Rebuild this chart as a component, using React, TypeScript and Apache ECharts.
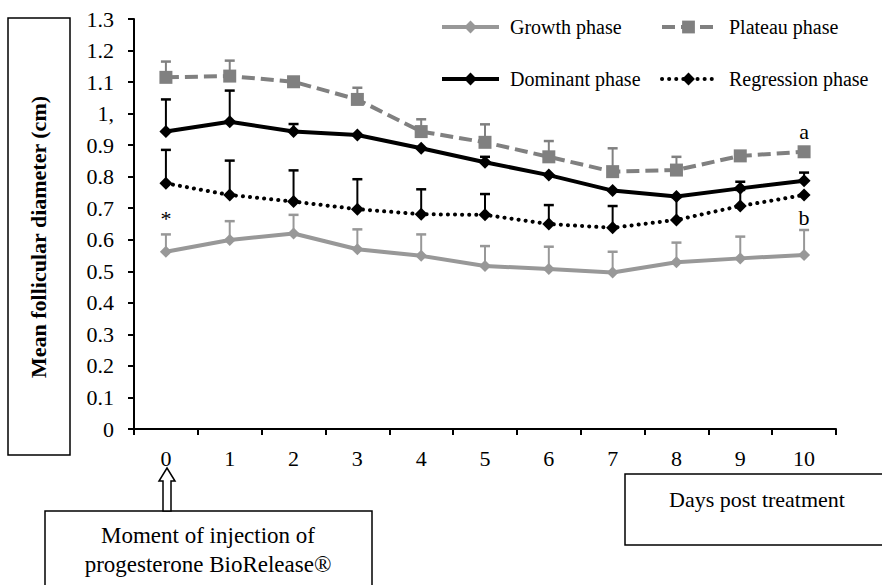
import React, { useEffect, useRef } from "react";
import * as echarts from "echarts";

const days = ["0", "1", "2", "3", "4", "5", "6", "7", "8", "9", "10"];
const yTicksMax = 1.3;

const growth = [0.562, 0.599, 0.62, 0.57, 0.549, 0.517, 0.507, 0.496, 0.529, 0.541, 0.552];
const growthTop = [0.617, 0.659, 0.679, 0.633, 0.617, 0.58, 0.578, 0.562, 0.591, 0.61, 0.631];

const plateau = [1.115, 1.119, 1.101, 1.045, 0.943, 0.909, 0.863, 0.816, 0.821, 0.866, 0.879];
const plateauTop = [1.165, 1.168, null, 1.082, 0.982, 0.966, 0.913, 0.89, 0.863, null, null];

const dominant = [0.943, 0.974, 0.943, 0.932, 0.89, 0.846, 0.805, 0.756, 0.737, 0.763, 0.787];
const dominantTop = [1.045, 1.073, 0.967, null, null, 0.863, null, null, null, 0.784, 0.813];

const regression = [0.779, 0.742, 0.721, 0.697, 0.681, 0.679, 0.65, 0.638, 0.663, 0.707, 0.742];
const regressionTop = [0.885, 0.851, 0.82, 0.792, 0.76, 0.745, 0.71, 0.707, 0.735, 0.758, null];

const annoDays = [0, 10, 10];
const annoValues = [0.666, 0.942, 0.672];
const annoTexts = ["*", "a", "b"];

const FONT = "Liberation Serif, Times New Roman, DejaVu Serif, serif";
const GROWTH_C = "#989898";
const PLATEAU_C = "#808080";

function errData(mean: number[], top: (number | null)[]) {
  const out: any[] = [];
  mean.forEach((m, i) => {
    const t = top[i];
    if (t != null) out.push([i, m, t]);
  });
  return out;
}

function errSeries(name: string, mean: number[], top: (number | null)[], color: string) {
  return {
    name: name + " err",
    type: "custom",
    z: 1,
    data: errData(mean, top),
    renderItem: (params: any, api: any) => {
      const x = api.value(0);
      const p0 = api.coord([x, api.value(1)]);
      const p1 = api.coord([x, api.value(2)]);
      return {
        type: "group",
        children: [
          {
            type: "line",
            shape: { x1: p0[0], y1: p0[1], x2: p1[0], y2: p1[1] },
            style: { stroke: color, lineWidth: 2 },
          },
          {
            type: "line",
            shape: { x1: p1[0] - 5, y1: p1[1], x2: p1[0] + 5, y2: p1[1] },
            style: { stroke: color, lineWidth: 2.5 },
          },
        ],
      };
    },
  };
}

export default function App() {
  const ref = useRef<HTMLDivElement>(null);
  useEffect(() => {
    if (!ref.current) return;
    const chart = echarts.init(ref.current, undefined, { renderer: "svg" });
    const legendCommon = {
      orient: "vertical",
      top: 17,
      padding: 0,
      itemGap: 32,
      itemHeight: 16,
      lineStyle: { width: 4 },
    };
    const option: any = {
      animation: false,
      backgroundColor: "#ffffff",
      textStyle: { fontFamily: FONT },
      grid: { left: 134, right: 46, top: 19, bottom: 156, containLabel: false },
      legend: [
        {
          ...legendCommon,
          data: ["Growth phase", "Dominant phase"],
          left: 440,
          itemWidth: 57,
          textStyle: { fontFamily: FONT, fontSize: 20, color: "#000", lineHeight: 20, padding: [0, 0, 0, 6] },
        },
        {
          ...legendCommon,
          data: ["Plateau phase", "Regression phase"],
          left: 660,
          itemWidth: 53,
          textStyle: { fontFamily: FONT, fontSize: 20, color: "#000", lineHeight: 20, padding: [0, 0, 0, 9] },
        },
      ],
      xAxis: {
        type: "category",
        data: days,
        boundaryGap: true,
        axisLine: { lineStyle: { color: "#000", width: 2 } },
        axisTick: { show: true, length: 6, lineStyle: { color: "#000", width: 2 } },
        axisLabel: { fontFamily: FONT, fontSize: 22, color: "#000", margin: 18 },
      },
      yAxis: {
        type: "value",
        min: 0,
        max: yTicksMax,
        interval: 0.1,
        splitLine: { show: false },
        axisLine: { show: true, lineStyle: { color: "#000", width: 2 } },
        axisTick: { show: true, length: 6, lineStyle: { color: "#000", width: 2 } },
        axisLabel: {
          fontFamily: FONT,
          fontSize: 22,
          color: "#000",
          margin: 20,
          formatter: (v: number) => (Math.abs(v - 1) < 1e-9 ? "1," : v === 0 ? "0" : v.toFixed(1)),
        },
      },
      series: [
        errSeries("Growth phase", growth, growthTop, GROWTH_C),
        errSeries("Plateau phase", plateau, plateauTop, PLATEAU_C),
        errSeries("Dominant phase", dominant, dominantTop, "#000"),
        errSeries("Regression phase", regression, regressionTop, "#000"),
        {
          name: "Growth phase",
          type: "line",
          z: 3,
          data: growth,
          symbol: "diamond",
          symbolSize: 12,
          itemStyle: { color: GROWTH_C },
          lineStyle: { color: GROWTH_C, width: 4 },
        },
        {
          name: "Plateau phase",
          type: "line",
          z: 3,
          data: plateau,
          symbol: "rect",
          symbolSize: 13,
          itemStyle: { color: PLATEAU_C },
          lineStyle: { color: PLATEAU_C, width: 4, type: [13, 6] },
        },
        {
          name: "Dominant phase",
          type: "line",
          z: 4,
          data: dominant,
          symbol: "diamond",
          symbolSize: 13,
          itemStyle: { color: "#000" },
          lineStyle: { color: "#000", width: 4 },
        },
        {
          name: "Regression phase",
          type: "line",
          z: 4,
          data: regression,
          symbol: "diamond",
          symbolSize: 13,
          itemStyle: { color: "#000" },
          lineStyle: { color: "#000", width: 4, type: [0.1, 7], cap: "round" },
        },
        {
          name: "annotations",
          type: "scatter",
          z: 5,
          symbolSize: 0,
          itemStyle: { opacity: 1, color: "#000" },
          data: annoDays.map((d, i) => [d, annoValues[i], annoTexts[i]]),
          label: {
            show: true,
            position: "inside",
            formatter: (p: any) => p.data[2],
            fontFamily: FONT,
            fontSize: 22,
            color: "#000",
          },
        },
      ],
      graphic: [
        {
          type: "rect",
          shape: { x: 8, y: 18, width: 62, height: 437 },
          style: { fill: "none", stroke: "#000", lineWidth: 1.5 },
        },
        {
          type: "text",
          x: 38,
          y: 237,
          rotation: Math.PI / 2,
          style: {
            text: "Mean follicular diameter (cm)",
            fontFamily: FONT,
            fontSize: 22,
            fontWeight: "bold",
            fill: "#000",
            align: "center",
            verticalAlign: "middle",
          },
        },
        {
          type: "rect",
          shape: { x: 45, y: 511, width: 327, height: 100 },
          style: { fill: "#fff", stroke: "#000", lineWidth: 1.5 },
        },
        {
          type: "text",
          x: 208,
          y: 535,
          style: {
            text: "Moment of injection of",
            fontFamily: FONT,
            fontSize: 23,
            fill: "#000",
            align: "center",
            verticalAlign: "middle",
          },
        },
        {
          type: "text",
          x: 208,
          y: 564,
          style: {
            text: "progesterone BioRelease®",
            fontFamily: FONT,
            fontSize: 23,
            fill: "#000",
            align: "center",
            verticalAlign: "middle",
          },
        },
        {
          type: "polygon",
          shape: {
            points: [
              [167, 468],
              [175, 481],
              [171, 481],
              [171, 511],
              [163, 511],
              [163, 481],
              [159, 481],
            ],
          },
          style: { fill: "#fff", stroke: "#000", lineWidth: 1.5 },
        },
        {
          type: "rect",
          shape: { x: 625, y: 474, width: 300, height: 71 },
          style: { fill: "#fff", stroke: "#000", lineWidth: 1.5 },
        },
        {
          type: "text",
          x: 757,
          y: 499,
          style: {
            text: "Days post treatment",
            fontFamily: FONT,
            fontSize: 22,
            fill: "#000",
            align: "center",
            verticalAlign: "middle",
          },
        },
      ],
    };
    chart.setOption(option);
    return () => chart.dispose();
  }, []);
  return (
    <div
      ref={ref}
      style={{ position: "fixed", left: 0, top: 0, width: 882, height: 585, background: "#fff" }}
    />
  );
}
